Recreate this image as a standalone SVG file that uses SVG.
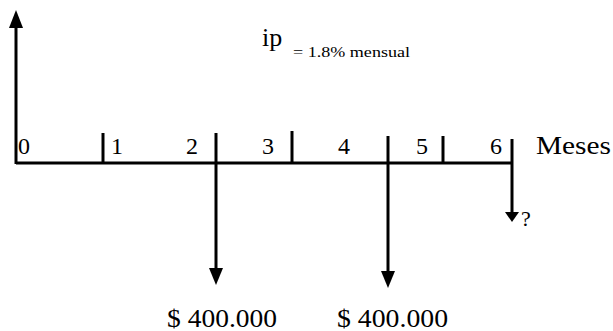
<svg xmlns="http://www.w3.org/2000/svg" width="613" height="331" viewBox="0 0 613 331">
<style>
.ln{stroke:#000;stroke-width:3;fill:none}
.hd{fill:#000}
text{font-family:"Liberation Serif","Times New Roman",serif;fill:#000}
.num{font-size:24px}
</style>
<rect width="613" height="331" fill="#fff"/>
<g id="axis">
<line class="ln" x1="16" y1="163" x2="513" y2="163"/>
<line class="ln" x1="16" y1="164" x2="16" y2="26"/>
<polygon class="hd" points="16,10 9,28 23,28"/>
</g>
<g id="ticks">
<line class="ln" x1="103" y1="133" x2="103" y2="163"/>
<line class="ln" x1="292" y1="131" x2="292" y2="163"/>
<line class="ln" x1="443" y1="136" x2="443" y2="163"/>
</g>
<g id="connectors">
<line class="ln" x1="216" y1="133" x2="216" y2="270"/>
<polygon class="hd" points="216,285 209,268 223,268"/>
<line class="ln" x1="388" y1="136" x2="388" y2="273"/>
<polygon class="hd" points="388,288 381,271 395,271"/>
<line class="ln" x1="512" y1="139" x2="512" y2="213"/>
<polygon class="hd" points="512,222 505,212 519,212"/>
</g>
<g id="labels">
<text class="num" x="18" y="154">0</text>
<text class="num" x="111" y="154">1</text>
<text class="num" x="186" y="154">2</text>
<text class="num" x="262" y="154">3</text>
<text class="num" x="338" y="154">4</text>
<text class="num" x="416" y="154">5</text>
<text class="num" x="490" y="154">6</text>
<text x="536" y="154" font-size="25" textLength="75" lengthAdjust="spacingAndGlyphs">Meses</text>
<text x="262" y="46" font-size="26">ip</text>
<text x="293" y="57" font-size="14" textLength="117" lengthAdjust="spacingAndGlyphs">= 1.8% mensual</text>
<text x="521" y="226" font-size="22">?</text>
</g>
<g id="amount1"><text x="167" y="327" font-size="25" textLength="110" lengthAdjust="spacingAndGlyphs">$ 400.000</text></g>
<g id="amount2"><text x="337" y="327" font-size="25" textLength="111" lengthAdjust="spacingAndGlyphs">$ 400.000</text></g>
</svg>
